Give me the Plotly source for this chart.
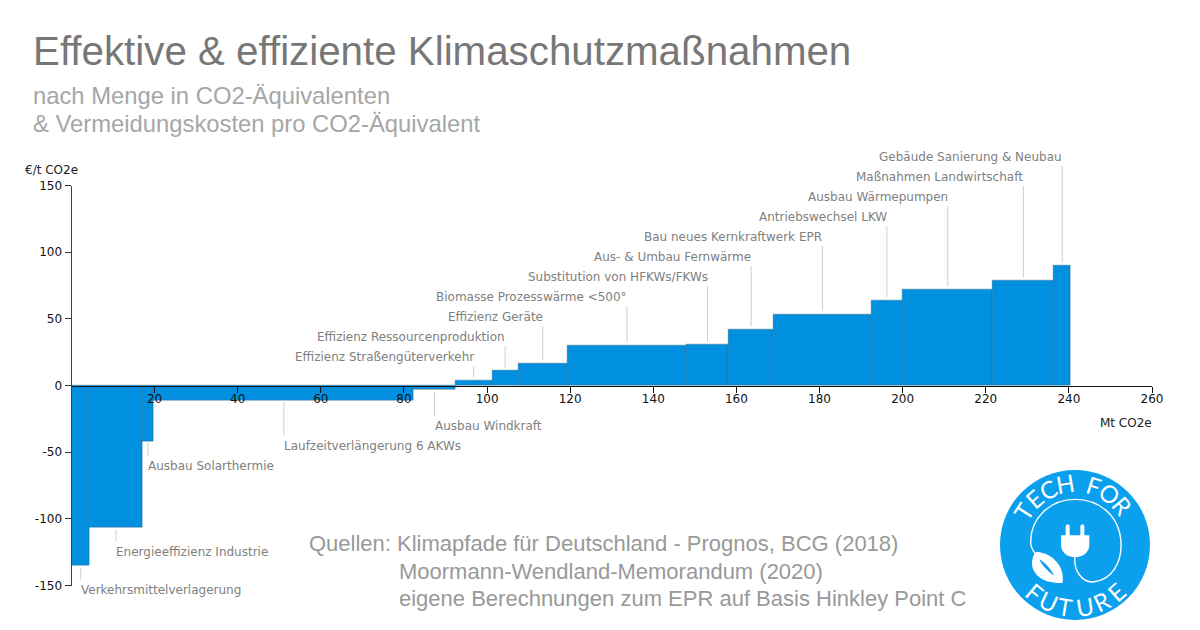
import math
import plotly.graph_objects as go

W, H = 1200, 630

# ---- data ----
measures = ["Verkehrsmittelverlagerung", "Energieeffizienz Industrie", "Ausbau Solarthermie",
            "Laufzeitverlängerung 6 AKWs", "Ausbau Windkraft", "Effizienz Straßengüterverkehr",
            "Effizienz Ressourcenproduktion", "Effizienz Geräte", "Biomasse Prozesswärme <500°",
            "Substitution von HFKWs/FKWs", "Aus- & Umbau Fernwärme", "Bau neues Kernkraftwerk EPR",
            "Antriebswechsel LKW", "Ausbau Wärmepumpen", "Maßnahmen Landwirtschaft",
            "Gebäude Sanierung & Neubau"]
amounts_mt = [4.4, 12.6, 2.8, 62.6, 9.9, 8.9, 6.3, 11.8, 28.7, 10.1, 10.9, 23.4, 7.6, 21.7, 14.7, 4.0]
costs_eur = [-135, -106.7, -41.7, -11, -3, 4, 11, 16.6, 30, 31, 42, 53.6, 64, 72, 79, 90]
x_ticks = [20, 40, 60, 80, 100, 120, 140, 160, 180, 200, 220, 240, 260]
y_ticks = [150, 100, 50, 0, -50, -100, -150]
y_tick_labels = ["150", "100", "50", "0", "-50", "-100", "-150"]

# ---- layout helpers (pixel placement of the page furniture) ----
def fx(px): return px / W
def fy(py): return 1 - py / H

PLOT_L, PLOT_R, PLOT_T, PLOT_B, ZERO_Y = 71.5, 1152, 185.5, 585.5, 385.5
BAR = "#0090DF"
LABEL = "#808080"
LEADER = "#CFCFCF"
SANS = "DejaVu Sans"
ARIAL = "Liberation Sans"

lefts = [sum(amounts_mt[:i]) for i in range(len(amounts_mt))]
mids = [l + a / 2 for l, a in zip(lefts, amounts_mt)]

fig = go.Figure(go.Bar(
    x=lefts, y=costs_eur, width=amounts_mt, offset=0,
    marker=dict(color=BAR, line=dict(color="rgba(70,100,125,0.6)", width=0.7)),
    hovertext=measures, showlegend=False))

annotations, shapes = [], []

def text(x, y, s, size, color, font=ARIAL, xanchor="left", xref="paper", angle=0, yanchor="middle"):
    annotations.append(dict(x=x, y=fy(y), xref=xref, yref="paper", text=s, showarrow=False,
                            xanchor=xanchor, yanchor=yanchor, align="left", textangle=angle,
                            font=dict(family=font, size=size, color=color),
                            borderpad=0, borderwidth=0))

# leader lines & labels
neg_leader = [(568, 580, 590), (530, 541, 552), (443, 456, 466), (402, 436, 446), (392, 416, 426)]
pos_label_y = [357, 337, 317, 297, 277, 257, 237, 217, 197, 177, 157]

for i in range(5):
    y0, y1, ly = neg_leader[i]
    shapes.append(dict(type="line", xref="x", yref="paper", x0=mids[i], x1=mids[i], y0=fy(y0), y1=fy(y1),
                       line=dict(color=LEADER, width=1), layer="above"))
    text(mids[i], ly, measures[i], 12, LABEL, SANS, "left", "x")

for j, i in enumerate(range(5, 16)):
    ly = pos_label_y[j]
    top_px = ZERO_Y - costs_eur[i] * (ZERO_Y - PLOT_T) / 150
    shapes.append(dict(type="line", xref="x", yref="paper", x0=mids[i], x1=mids[i], y0=fy(top_px - 3),
                       y1=fy(ly + 9), line=dict(color=LEADER, width=1), layer="above"))
    text(mids[i], ly, measures[i], 12, LABEL, SANS, "right", "x")

# headline texts
text(33, 51, "Effektive &amp; effiziente Klimaschutzmaßnahmen", 40.3, "#777777")
text(33, 95, "nach Menge in CO2-Äquivalenten", 23.8, "#A6A6A6")
text(33, 124, "&amp; Vermeidungskosten pro CO2-Äquivalent", 23.8, "#A6A6A6")
text(25, 170, "€/t CO2e", 12, "#222222", SANS)
text(1152, 423, "Mt CO2e", 12, "#222222", SANS, "right")
text(309, 543, "Quellen: Klimapfade für Deutschland - Prognos, BCG (2018)", 22, "#999999")
text(399, 571, "Moormann-Wendland-Memorandum (2020)", 22, "#999999")
text(399, 598, "eigene Berechnungen zum EPR auf Basis Hinkley Point C", 22, "#999999")

# ---- logo ----
CX, CY, R = 1075, 545, 75
LOGO = "#0BA0EE"
shapes.append(dict(type="circle", xref="paper", yref="paper", x0=fx(CX - R), x1=fx(CX + R),
                   y0=fy(CY + R), y1=fy(CY - R), fillcolor=LOGO, line=dict(width=0), layer="above"))

def z(x, y):
    """zoomed logo-crop coordinates -> paper"""
    return f"{fx(990 + x / 3):.5f},{fy(460 + y / 3):.5f}"

def path(fmt_tokens):
    return " ".join(t if isinstance(t, str) else z(*t) for t in fmt_tokens)

WHITE = "#FFFFFF"
# cable
shapes.append(dict(type="path", xref="paper", yref="paper", layer="above", line=dict(color=WHITE, width=1.4),
                   path=path(["M", (255, 288), "C", (250, 330), (275, 368), (310, 366),
                              "C", (365, 360), (395, 310), (393, 250),
                              "C", (390, 170), (330, 118), (255, 118),
                              "C", (180, 118), (122, 175), (122, 245),
                              "C", (122, 262), (128, 272), (137, 282)])))
# plug
shapes.append(dict(type="path", xref="paper", yref="paper", layer="above", fillcolor=WHITE, line=dict(width=0),
                   path=path(["M", (213, 226), "L", (298, 226), "L", (298, 255),
                              "C", (298, 275), (280, 292), (255, 292),
                              "C", (230, 292), (213, 275), (213, 255), "Z"])))
for px_ in (233, 277):
    shapes.append(dict(type="path", xref="paper", yref="paper", layer="above", fillcolor=WHITE, line=dict(width=0),
                       path=path(["M", (px_ - 6, 230), "L", (px_ - 6, 200), "C", (px_ - 6, 190), (px_ + 6, 190), (px_ + 6, 200),
                                  "L", (px_ + 6, 230), "Z"])))
# leaf
shapes.append(dict(type="path", xref="paper", yref="paper", layer="above", fillcolor=WHITE, line=dict(width=0),
                   path=path(["M", (140, 275), "C", (190, 280), (225, 320), (218, 368),
                              "C", (160, 374), (116, 340), (128, 295), "C", (130, 285), (134, 279), (140, 275), "Z"])))
shapes.append(dict(type="path", xref="paper", yref="paper", layer="above", fillcolor=LOGO, line=dict(width=0),
                   path=path(["M", (148, 298), "C", (165, 308), (182, 326), (193, 348),
                              "C", (176, 336), (158, 320), (148, 298), "Z"])))

top_letters = ["T", "E", "C", "H", "F", "O", "R"]
top_angles = [-57, -41, -26, -9.5, 17.5, 34, 50]
bottom_letters = ["F", "U", "T", "U", "R", "E"]
bottom_angles = [-40, -25, -9, 9, 25, 42]
for ch, a in zip(top_letters, top_angles):
    x = CX + 62 * math.sin(math.radians(a))
    y = CY - 62 * math.cos(math.radians(a))
    text(fx(x), y, ch, 24, WHITE, "Lato", "center", angle=a)
for ch, a in zip(bottom_letters, bottom_angles):
    x = CX + 62 * math.sin(math.radians(a))
    y = CY + 62 * math.cos(math.radians(a))
    text(fx(x), y, ch, 24, WHITE, "Lato", "center", angle=-a)

# annotations use fraction x for paper refs
for a in annotations:
    if a["xref"] == "paper" and a["x"] > 1:
        a["x"] = fx(a["x"])

fig.update_layout(
    width=W, height=H, margin=dict(l=0, r=0, t=0, b=0),
    paper_bgcolor="white", plot_bgcolor="white", bargap=0, showlegend=False,
    annotations=annotations, shapes=shapes,
    xaxis=dict(domain=[fx(PLOT_L), fx(PLOT_R)], range=[0, 260], anchor="free", position=fy(ZERO_Y), automargin=False,
               tickvals=x_ticks, ticktext=[str(t) for t in x_ticks], ticks="outside", ticklen=6, tickwidth=1,
               ticklabelstandoff=-4,
               tickcolor="#111111", showline=True, linecolor="#111111", linewidth=1, showgrid=False, zeroline=False,
               tickfont=dict(family=SANS, size=12, color="#111111")),
    yaxis=dict(domain=[fy(PLOT_B), fy(PLOT_T)], range=[-150, 150], anchor="x", automargin=False,
               tickvals=y_ticks, ticktext=y_tick_labels, ticks="outside", ticklen=6, tickwidth=1,
               tickcolor="#333333", showline=True, linecolor="#444444", linewidth=1, showgrid=False, zeroline=False,
               tickfont=dict(family=SANS, size=12, color="#111111")),
)
fig.write_html("out.html", config=dict(displayModeBar=False),
               post_script="document.body.style.margin='0';")
